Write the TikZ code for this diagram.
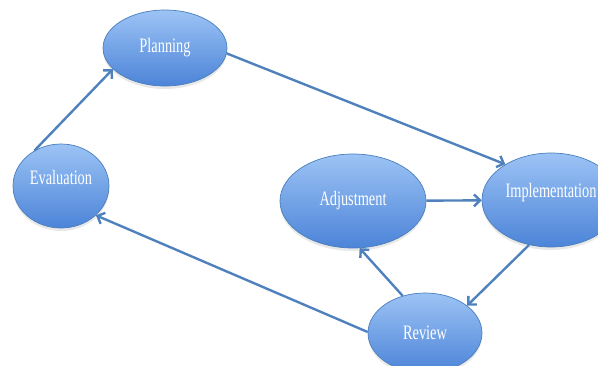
\documentclass[tikz,border=0pt]{standalone}
\usepackage{fontspec}
\setmainfont{Liberation Serif}
\newfontfamily\stagefont[FakeStretch=0.7]{Liberation Serif}
\usepackage{xcolor}
\usepackage{tikz}
\usetikzlibrary{shapes.geometric, arrows.meta, shadows}

\definecolor{stagetop}{HTML}{9CC3F5}
\definecolor{stagebot}{HTML}{4C84D8}
\definecolor{stageline}{HTML}{4A7EBB}
\definecolor{flow}{HTML}{4F81BD}

\begin{document}
\begin{tikzpicture}[x=1pt, y=-1pt,
    stage/.style={ellipse, draw=stageline, line width=0.7pt, top color=stagetop, bottom color=stagebot,
        text=white, font=\stagefont\fontsize{20.5}{22}\selectfont, inner sep=0pt,
        drop shadow={opacity=0.18, shadow xshift=0pt, shadow yshift=-3pt}},
    arrow/.style={-{Straight Barb[length=6pt, width=12pt]}, line width=2.4pt, draw=flow}
]
\useasboundingbox (0,0) rectangle (598,365);
\clip (0,0) rectangle (598,365);

\node[stage, minimum width=124pt, minimum height=76pt] (plan) at (165,48) {Planning};
\node[stage, minimum width=96pt, minimum height=84pt] (eval) at (61,186) {\raisebox{2pt}[0pt][0pt]{Evaluation}};
\node[stage, minimum width=146pt, minimum height=94pt] (adj) at (353,201) {Adjustment};
\node[stage, minimum width=138pt, minimum height=94pt] (impl) at (551,200) {\raisebox{3pt}[0pt][0pt]{Implementation}};
\node[stage, minimum width=114pt, minimum height=80pt] (rev) at (425,333) {Review};

\draw[arrow] (eval.127) -- (plan.202);
\draw[arrow] (plan.-5) -- (impl.142);
\draw[arrow] (adj) -- (impl);
\draw[arrow] (impl.244) -- (rev.33);
\draw[arrow] (rev.121) -- (adj.278);
\draw[arrow] (rev.179) -- (eval.320);

\end{tikzpicture}
\end{document}
